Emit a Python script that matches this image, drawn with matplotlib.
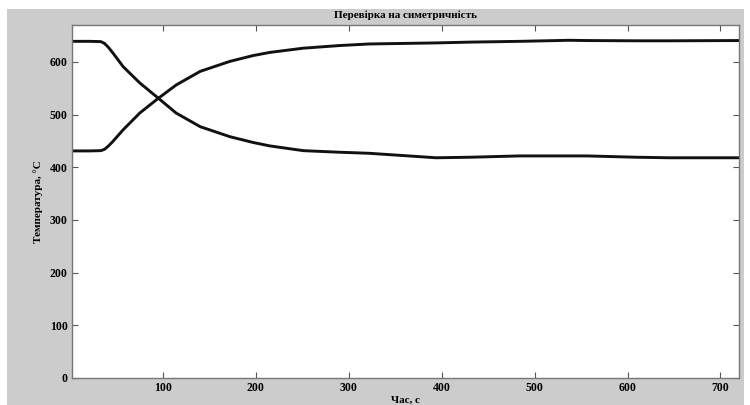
import matplotlib.pyplot as plt
from matplotlib.patches import Rectangle

# time, s
time_s = [2, 20, 33, 37, 41, 46, 57, 75, 95, 114, 140, 172, 197, 215, 251, 290,
          322, 394, 430, 484, 538, 556, 610, 645, 720]
# heated side, °C
temp_rise = [431, 431, 431.5, 434, 440, 449, 471, 503, 531, 556, 582, 601, 612, 618, 626, 631,
             634, 636, 637.5, 639, 641, 640.5, 640, 640, 640.5]
# cooled side, °C
temp_fall = [639, 639, 638.5, 635, 628, 617, 591, 560, 531, 503, 477, 458, 447, 440.5, 431.5, 428.5,
             426.5, 418, 419, 421.5, 421.5, 421.5, 419, 418, 418]

x_ticks = [100, 200, 300, 400, 500, 600, 700]
y_ticks = [0, 100, 200, 300, 400, 500, 600]

plt.rcParams['font.family'] = ['Liberation Serif', 'DejaVu Serif']
plt.rcParams['font.weight'] = 'bold'

fig = plt.figure(figsize=(7.5, 4.05), dpi=100)
fig.patch.set_facecolor('white')
# grey figure window area
fig.add_artist(Rectangle((7 / 750, 0), 737 / 750, 396 / 405,
                         transform=fig.transFigure, facecolor='#cccccc',
                         edgecolor='none', zorder=-10))

ax = fig.add_axes([72 / 750, 27 / 405, 667 / 750, 353 / 405])
ax.set_zorder(1)
ax.set_facecolor('white')

ax.plot(time_s, temp_rise, color='#111111', lw=2.1)
ax.plot(time_s, temp_fall, color='#111111', lw=2.1)

ax.set_xlim(2, 720)
ax.set_ylim(0, 670)
ax.set_xticks(x_ticks)
ax.set_yticks(y_ticks)
ax.tick_params(direction='in', length=4, width=0.8, color='#555555',
               top=True, right=True, labelsize=8.5, pad=3)
for spine in ax.spines.values():
    spine.set_color('#777777')
    spine.set_linewidth(1.0)

ax.set_title('Перевірка на симетричність', fontsize=8, fontweight='bold', pad=5)
ax.set_xlabel('Час, с', fontsize=8, fontweight='bold', labelpad=1)
ax.set_ylabel('Температура, °С', fontsize=8, fontweight='bold', labelpad=5)

plt.savefig('out.png', dpi=100)
